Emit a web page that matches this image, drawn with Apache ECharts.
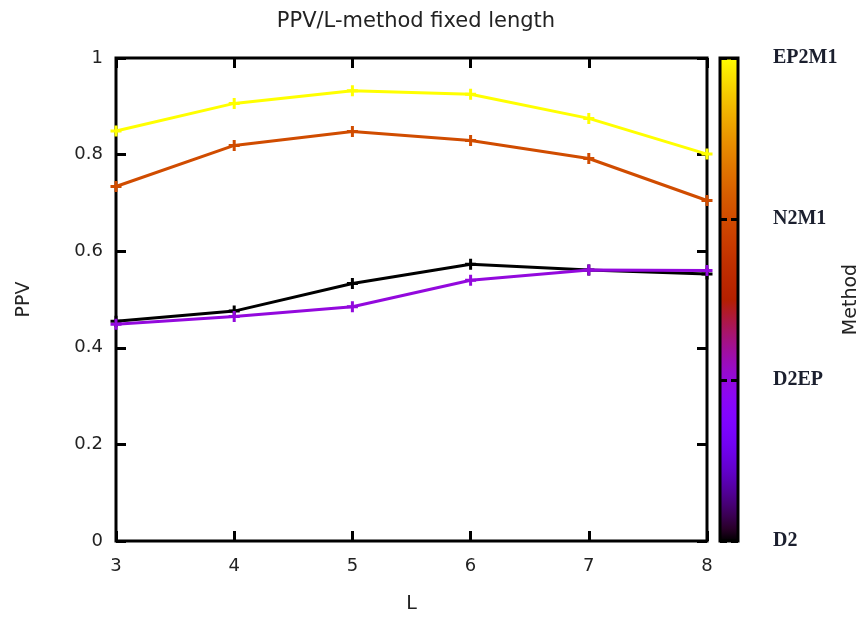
<!DOCTYPE html>
<html>
<head>
<meta charset="utf-8">
<script src="https://cdn.jsdelivr.net/npm/echarts@6/dist/echarts.min.js"></script>
<style>
  html, body { margin: 0; padding: 0; background: #fff; }
  #chart { width: 864px; height: 618px; }
</style>
</head>
<body>
<div id="chart"></div>
<script>
// L values along the x axis
const L = [3, 4, 5, 6, 7, 8];

// PPV per method
const ppvD2    = [0.455, 0.476, 0.533, 0.573, 0.561, 0.553];
const ppvD2EP  = [0.449, 0.465, 0.485, 0.540, 0.561, 0.560];
const ppvN2M1  = [0.734, 0.819, 0.848, 0.829, 0.792, 0.705];
const ppvEP2M1 = [0.849, 0.906, 0.932, 0.925, 0.875, 0.801];

// Methods and their position on the colour scale
const methods = ['D2', 'D2EP', 'N2M1', 'EP2M1'];
const methodLevels = [0, 1, 2, 3];
const ppvTicks = [0, 0.2, 0.4, 0.6, 0.8, 1];
const lTicks = [3, 4, 5, 6, 7, 8];

const seriesValues = [ppvD2, ppvD2EP, ppvN2M1, ppvEP2M1];

// Palette: rgbformulae 7,5,15  (r = sqrt(t), g = t^3, b = sin(2*pi*t))
function palette(t) {
  const c = v => Math.round(255 * Math.max(0, Math.min(1, v)));
  return 'rgb(' + c(Math.sqrt(t)) + ',' + c(t * t * t) + ',' + c(Math.sin(2 * Math.PI * t)) + ')';
}

const levelMax = methodLevels[methodLevels.length - 1];
const gradientStops = [];
for (let i = 0; i <= 40; i++) {
  const t = i / 40;
  gradientStops.push({ offset: t, color: palette(1 - t) });
}

const plusSymbol = 'path://M4,0 L7,0 L7,4 L11,4 L11,7 L7,7 L7,11 L4,11 L4,7 L0,7 L0,4 L4,4 Z';
const font = 'DejaVu Sans';
const labelColor = '#222';
const tick = len => ({ show: true, inside: true, length: len, lineStyle: { color: '#000', width: 3 } });
const noLine = { show: false, onZero: false };

const chart = echarts.init(document.getElementById('chart'));

const lineSeries = methods.map((m, i) => ({
  name: m,
  type: 'line',
  xAxisIndex: 0,
  yAxisIndex: 0,
  data: L.map((x, k) => [x, seriesValues[i][k]]),
  symbol: plusSymbol,
  symbolSize: 11,
  clip: false,
  lineStyle: { width: 3, color: palette(methodLevels[i] / levelMax) },
  itemStyle: { color: palette(methodLevels[i] / levelMax) },
  z: 3 + i
}));

chart.setOption({
  animation: false,
  backgroundColor: '#fff',
  title: {
    text: 'PPV/L-method fixed length',
    left: 411,
    textAlign: 'center',
    top: 6,
    textStyle: { fontFamily: font, fontSize: 21, fontWeight: 'normal', color: labelColor }
  },
  grid: [
    { left: 116, right: 157, top: 58, bottom: 77, show: true, borderColor: '#000', borderWidth: 3, backgroundColor: 'transparent', outerBoundsMode: 'none', containLabel: false },
    { left: 720, width: 18, top: 58, bottom: 77, show: true, borderColor: '#000', borderWidth: 3, backgroundColor: 'transparent', z: 6, outerBoundsMode: 'none', containLabel: false }
  ],
  xAxis: [
    {
      gridIndex: 0, type: 'value', min: lTicks[0], max: lTicks[lTicks.length - 1], interval: 1,
      position: 'bottom',
      name: 'L', nameLocation: 'middle', nameGap: 54,
      nameTextStyle: { fontFamily: font, fontSize: 19, color: labelColor },
      axisLine: noLine,
      axisTick: tick(10),
      axisLabel: { fontFamily: font, fontSize: 18, color: labelColor, margin: 16 },
      splitLine: { show: false }
    },
    {
      gridIndex: 0, type: 'value', min: lTicks[0], max: lTicks[lTicks.length - 1], interval: 1,
      position: 'top',
      axisLine: noLine,
      axisTick: tick(10),
      axisLabel: { show: false },
      splitLine: { show: false }
    },
    {
      gridIndex: 1, type: 'category', data: ['c'],
      axisLine: noLine, axisTick: { show: false }, axisLabel: { show: false }, splitLine: { show: false }
    }
  ],
  yAxis: [
    {
      gridIndex: 0, type: 'value', min: ppvTicks[0], max: ppvTicks[ppvTicks.length - 1], interval: 0.2,
      position: 'left',
      name: 'PPV', nameLocation: 'middle', nameGap: 82, nameRotate: 90,
      nameTextStyle: { fontFamily: font, fontSize: 19, color: labelColor },
      axisLine: noLine,
      axisTick: tick(10),
      axisLabel: {
        fontFamily: font, fontSize: 18, color: labelColor, margin: 13,
        formatter: v => (v === 0 || v === 1) ? String(v) : v.toFixed(1)
      },
      splitLine: { show: false }
    },
    {
      gridIndex: 0, type: 'value', min: ppvTicks[0], max: ppvTicks[ppvTicks.length - 1], interval: 0.2,
      position: 'right',
      axisLine: noLine,
      axisTick: tick(10),
      axisLabel: { show: false },
      splitLine: { show: false }
    },
    {
      gridIndex: 1, type: 'value', min: 0, max: levelMax, interval: 1,
      position: 'right',
      z: 6,
      name: 'Method', nameLocation: 'middle', nameGap: 102, nameRotate: 90,
      nameTextStyle: { fontFamily: font, fontSize: 19, color: labelColor },
      axisLine: noLine,
      axisTick: tick(7),
      axisLabel: {
        fontFamily: 'Liberation Serif', fontWeight: 'bold', fontSize: 20, color: '#1b1f2e', margin: 35,
        formatter: v => methods[methodLevels.indexOf(v)] || ''
      },
      splitLine: { show: false }
    },
    {
      gridIndex: 1, type: 'value', min: 0, max: levelMax, interval: 1,
      position: 'left',
      z: 6,
      axisLine: noLine,
      axisTick: tick(7),
      axisLabel: { show: false },
      splitLine: { show: false }
    }
  ],
  series: [
    {
      type: 'bar',
      xAxisIndex: 2,
      yAxisIndex: 2,
      data: [levelMax],
      barWidth: '100%',
      silent: true,
      itemStyle: { color: new echarts.graphic.LinearGradient(0, 0, 0, 1, gradientStops) },
      z: 1
    }
  ].concat(lineSeries)
});
</script>
</body>
</html>
